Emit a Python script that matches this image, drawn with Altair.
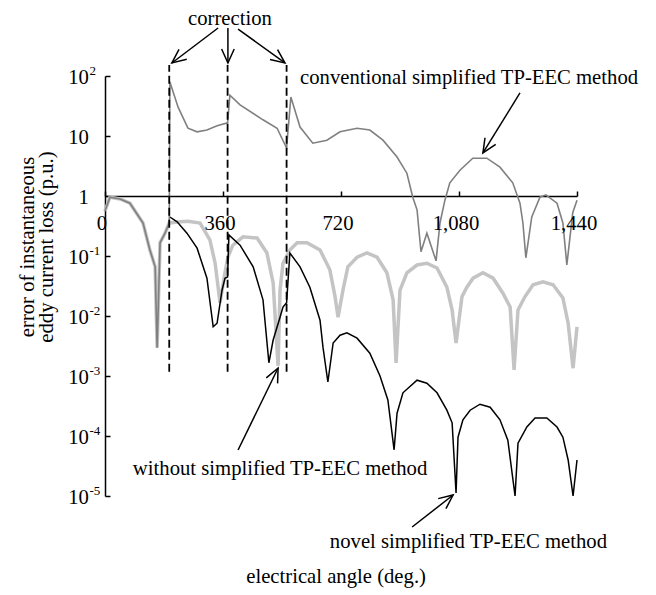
import altair as alt
import pandas as pd

FONT = "Liberation Serif"
FS = 20.7

# ---- series (electrical angle in deg, log10 of error in p.u.) ----
conv_deg = [0, 15, 46, 76, 116, 137, 153, 159, 168, 183, 196, 198, 223, 253, 281, 311, 342, 374, 381, 412,
            482, 525, 554, 567, 595, 634, 677, 717, 769, 808, 848, 891, 921, 939, 952, 964, 982, 1010, 1022, 1037,
            1052, 1083, 1122, 1165, 1205, 1244, 1266, 1275, 1284, 1302, 1327, 1345, 1379, 1397, 1409, 1427, 1440]
conv_log = [-0.25, -0.02, -0.05, -0.12, -0.45, -0.9, -1.18, -2.53, -0.78, -0.62, -0.45, 1.9, 1.48, 1.13, 1.07, 1.10, 1.17, 1.22, 1.68, 1.52,
            1.27, 1.13, 0.8, 1.65, 1.15, 0.88, 0.93, 1.07, 1.13, 1.10, 0.93, 0.65, 0.38, -0.02, -0.23, -0.93, -0.62, -1.08, -0.45, -0.07,
            0.22, 0.43, 0.63, 0.63, 0.48, 0.22, -0.12, -0.45, -1.03, -0.35, -0.02, 0.02, -0.12, -0.45, -1.15, -0.28, -0.07]

wo_deg = [0, 15, 46, 76, 116, 137, 153, 159, 168, 183, 196, 229, 253, 290, 320, 336, 351, 366, 375, 390,
          421, 464, 494, 513, 528, 534, 543, 564, 586, 616, 656, 686, 702, 711, 726, 741, 769, 799, 830, 860,
          879, 888, 900, 921, 952, 982, 1013, 1043, 1059, 1071, 1089, 1104, 1123, 1153, 1184, 1214, 1236, 1248, 1260, 1281,
          1306, 1336, 1367, 1397, 1413, 1428, 1440]
wo_log = [-0.25, -0.02, -0.05, -0.12, -0.45, -0.9, -1.18, -2.53, -0.78, -0.62, -0.45, -0.43, -0.42, -0.45, -0.73, -1.12, -1.78, -1.28, -1.02, -0.82,
          -0.68, -0.70, -0.95, -1.45, -2.83, -1.57, -1.12, -0.9, -0.78, -0.78, -0.9, -1.23, -1.68, -2.02, -1.57, -1.18, -1.02, -0.95, -1.02, -1.28,
          -1.73, -2.78, -1.57, -1.28, -1.15, -1.12, -1.2, -1.52, -1.9, -2.45, -1.68, -1.52, -1.37, -1.28, -1.37, -1.62, -1.85, -2.9, -1.9, -1.68,
          -1.48, -1.43, -1.48, -1.7, -2.12, -2.87, -2.18]

nov_deg = [198, 220, 250, 281, 311, 330, 342, 357, 366, 374, 378, 412, 452, 482, 500, 513, 534, 543, 554, 564,
           595, 625, 656, 665, 680, 696, 717, 738, 769, 808, 839, 863, 882, 891, 909, 952, 982, 1013, 1043, 1059,
           1071, 1077, 1092, 1114, 1144, 1175, 1205, 1229, 1251, 1260, 1287, 1312, 1348, 1379, 1397, 1413, 1428, 1440]
nov_log = [-0.35, -0.43, -0.62, -0.87, -1.37, -2.18, -2.12, -1.57, -1.37, -1.35, -0.65, -0.82, -1.18, -1.73, -2.78, -2.4, -2.02, -1.85, -1.78, -0.95,
           -1.18, -1.52, -2.07, -2.52, -3.1, -2.45, -2.32, -2.28, -2.37, -2.62, -3.0, -3.4, -4.23, -3.62, -3.28, -3.07, -3.12, -3.28, -3.57, -3.78,
           -4.95, -4.02, -3.73, -3.57, -3.47, -3.52, -3.73, -4.07, -5.0, -4.12, -3.85, -3.7, -3.7, -3.85, -4.02, -4.4, -5.0, -4.4]

# ---- axes ----
x_ticks = [0, 360, 720, 1080, 1440]
x_tick_labels = ["0", "360", "720", "1,080", "1,440"]
y_ticks = [1e2, 1e1, 1e0, 1e-1, 1e-2, 1e-3, 1e-4, 1e-5]
y_base = ["10", "10", "1", "10", "10", "10", "10", "10"]
y_exp = ["2", "", "", "-1", "-2", "-3", "-4", "-5"]

# ---- annotations ----
corr_deg = [196, 374, 554]
corr_lo, corr_hi = -2.93, 2.183

arrow_x = [345, 375, 406, 1266, 406, 937]
arrow_y = [2.8, 2.8, 2.783, 1.717, -4.233, -5.517]
arrow_x2 = [204, 375, 549, 1153, 528, 1062]
arrow_y2 = [2.217, 2.217, 2.217, 0.717, -2.867, -4.983]
arrow_ang = [232, 180, 127, 212, 26, 52]

center_text = ["correction", "electrical angle (deg.)"]
center_deg = [381, 705]
center_log = [2.845, -6.45]
left_text = ["conventional simplified TP-EEC method", "without simplified TP-EEC method", "novel simplified TP-EEC method"]
left_deg = [595, 85, 686]
left_log = [1.875, -4.65, -5.867]
ytitle_text = ["error of instantaneous", "eddy current loss (p.u.)"]
ytitle_deg = [-217, -159]
ytitle_log = [-0.85, -0.85]


def series(d, l):
    return pd.DataFrame({"deg": d, "val": [10 ** v for v in l]})


xs = alt.Scale(domain=[0, 1440], nice=False, zero=False)
ys = alt.Scale(type="log", domain=[1e-5, 100], nice=False)

x_axis = alt.Axis(orient="top", offset=-120, values=x_ticks, labels=False, ticks=True, tickSize=5,
                  tickColor="black", tickWidth=1.5, domainColor="black", domainWidth=1.5, grid=False, title=None)
y_axis = alt.Axis(orient="right", offset=-472, values=y_ticks, labels=False, ticks=True, tickSize=5,
                  tickColor="black", tickWidth=1.5, domainColor="black", domainWidth=1.5, grid=False, title=None)


def X(f="deg"):
    return alt.X(f"{f}:Q", scale=xs, axis=x_axis)


def Y(f="val"):
    return alt.Y(f"{f}:Q", scale=ys, axis=y_axis)


wo = alt.Chart(series(wo_deg, wo_log)).mark_line(color="#c4c4c4", strokeWidth=3.5).encode(x=X(), y=Y())
nov = alt.Chart(series(nov_deg, nov_log)).mark_line(color="black", strokeWidth=1.5).encode(x=X(), y=Y())
conv = alt.Chart(series(conv_deg, conv_log)).mark_line(color="#808080", strokeWidth=1.6).encode(x=X(), y=Y())

dash_df = pd.DataFrame({"deg": corr_deg, "lo": [10 ** corr_lo] * 3, "hi": [10 ** corr_hi] * 3})
dashes = alt.Chart(dash_df).mark_rule(color="black", strokeWidth=1.8, strokeDash=[8, 4]).encode(
    x=X(), y=Y("lo"), y2="hi:Q")

arr_df = pd.DataFrame({"x": arrow_x, "y": [10 ** v for v in arrow_y], "x2": arrow_x2,
                       "y2": [10 ** v for v in arrow_y2], "ang": arrow_ang})
shafts = alt.Chart(arr_df).mark_rule(color="black", strokeWidth=1.5).encode(
    x=X("x"), y=Y("y"), x2="x2:Q", y2="y2:Q")
heads = alt.Chart(arr_df).mark_point(shape="M -0.45 1 L 0 0 L 0.45 1", filled=False, stroke="black",
                                     strokeWidth=1.5, size=784, opacity=1).encode(
    x=X("x2"), y=Y("y2"), angle=alt.Angle("ang:Q", scale=None))

ctext = alt.Chart(pd.DataFrame({"t": center_text, "deg": center_deg, "val": [10 ** v for v in center_log]})).mark_text(
    font=FONT, fontSize=FS, align="center", baseline="alphabetic", color="black").encode(x=X(), y=Y(), text="t:N")
ltext = alt.Chart(pd.DataFrame({"t": left_text, "deg": left_deg, "val": [10 ** v for v in left_log]})).mark_text(
    font=FONT, fontSize=FS, align="left", baseline="alphabetic", color="black").encode(x=X(), y=Y(), text="t:N")
ytitle = alt.Chart(pd.DataFrame({"t": ytitle_text, "deg": ytitle_deg, "val": [10 ** v for v in ytitle_log]})).mark_text(
    font=FONT, fontSize=FS, align="center", baseline="alphabetic", angle=270, color="black").encode(x=X(), y=Y(), text="t:N")

xlab = alt.Chart(pd.DataFrame({"deg": x_ticks, "val": [1.0] * 5, "t": x_tick_labels})).mark_text(
    font=FONT, fontSize=FS, align="center", baseline="alphabetic", dy=34, dx=-3, color="black").encode(
    x=X(), y=Y(), text="t:N")
ylab_df = pd.DataFrame({"val": y_ticks, "b": y_base, "e": y_exp, "deg": [-49.0] * 8})
ybase = alt.Chart(ylab_df).mark_text(font=FONT, fontSize=FS, align="right", baseline="middle", dy=2,
                                     color="black").encode(x=X(), y=Y(), text="b:N")
yexp = alt.Chart(ylab_df).mark_text(font=FONT, fontSize=13, align="left", baseline="middle", dy=-5, dx=0.5,
                                    color="black").encode(x=X(), y=Y(), text="e:N")

chart = alt.layer(wo, nov, conv, dashes, shafts, heads, ctext, ltext, ytitle, xlab, ybase, yexp).properties(
    width=472, height=420,
    padding={"left": 97, "top": 68, "right": 70, "bottom": 98},
    autosize=alt.AutoSizeParams(type="none"),
    background="white",
).configure_view(stroke=None)

chart.save("out.html", embed_options={"renderer": "svg", "actions": False})
